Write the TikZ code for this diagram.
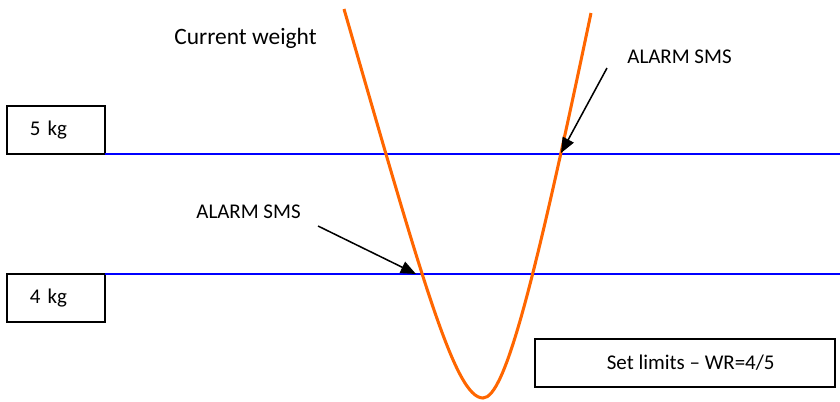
\documentclass[tikz,border=0pt]{standalone}
\usepackage{fontspec}
\setmainfont{Carlito}
\usetikzlibrary{arrows.meta}
\definecolor{curveorange}{RGB}{255,102,0}
\definecolor{limitblue}{RGB}{0,0,255}
\tikzset{
  kgbox/.style={draw=black, line width=1pt, minimum width=51.45pt, minimum height=25.2pt,
    text width=27.4pt, inner xsep=12pt, inner ysep=0pt, align=left, outer sep=0pt,
    font=\fontsize{11}{13}\selectfont},
  limbox/.style={draw=black, line width=1pt, minimum width=157.5pt, minimum height=25.2pt,
    inner sep=0pt, outer sep=0pt, font=\fontsize{11}{13}\selectfont},
  lbl/.style={inner sep=0pt, font=\fontsize{11}{13}\selectfont},
  limitline/.style={draw=limitblue, line width=1pt},
  weightcurve/.style={draw=curveorange, line width=1.6pt},
  alarmarrow/.style={draw=black, line width=0.8pt, -{Triangle[length=8pt,width=6.5pt]}}
}
\begin{document}
\begin{tikzpicture}[x=0.525pt, y=-0.525pt]
\useasboundingbox (0,0) rectangle (840,401);
% boxes
\node[kgbox] (box5) at (56,130) {5 kg};
\node[kgbox] (box4) at (56,298) {4 kg};
\node[limbox] (limits) at (685,363) {\hspace*{6pt}Set limits -- WR=4/5};
% limit lines
\coordinate (end5) at (840,154);
\coordinate (end4) at (840,274);
\draw[limitline] (box5.south east) -- (end5);
\draw[limitline] (box4.north east) -- (end4);
% curve
\coordinate (ctop) at (344,9);
\coordinate (cbot) at (483,398);
\coordinate (cend) at (591,13);
\draw[weightcurve] (ctop) .. controls (422,279) and (455,398) .. (cbot)
  .. controls (505,398) and (534.3,283) .. (cend);
% labels
\node[lbl, anchor=west, font=\fontsize{12.3}{14}\selectfont] (cw) at (174,38) {Current weight};
\node[lbl, anchor=west] (alarm1) at (627,57) {ALARM SMS};
\node[lbl, anchor=west] (alarm2) at (196,212) {ALARM SMS};
% arrows
\coordinate (a1s) at (607,68);
\coordinate (a1e) at (561,153);
\coordinate (a2s) at (318,226);
\coordinate (a2e) at (416,274);
\draw[alarmarrow] (a1s) -- (a1e);
\draw[alarmarrow] (a2s) -- (a2e);
\end{tikzpicture}
\end{document}
